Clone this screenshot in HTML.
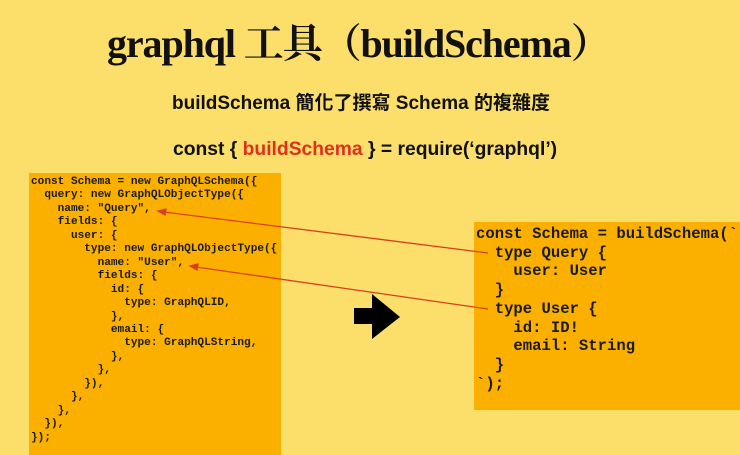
<!DOCTYPE html>
<html><head><meta charset="utf-8"><style>
body{margin:0;width:740px;height:455px;background:#FCDF6B;position:relative;overflow:hidden}
.t{position:absolute;white-space:nowrap;color:#111}
pre{margin:0;position:absolute;font-family:"Liberation Mono",monospace;font-weight:bold;color:#1a1a1a}
</style></head><body>
<div class="t" style="left:107px;top:12px;font:bold 40px 'Liberation Serif','Noto Serif CJK SC',serif;letter-spacing:-1.1px">graphql 工具（buildSchema）</div>
<div class="t" style="left:172px;top:88px;font:bold 19px 'Liberation Sans','Noto Sans CJK TC',sans-serif">buildSchema 簡化了撰寫 Schema 的複雜度</div>
<div class="t" style="left:173px;top:139px;font:bold 19.3px 'Liberation Sans',sans-serif">const { <span style="color:#E0301E">buildSchema</span> } = require(‘graphql’)</div>
<div style="position:absolute;left:29px;top:173px;width:252px;height:282px;background:#FBB000"></div>
<div style="position:absolute;left:474px;top:222px;width:266px;height:188px;background:#FBB000"></div>
<pre style="left:31px;top:176px;font-size:11.1px;line-height:13.45px">const Schema = new GraphQLSchema({
  query: new GraphQLObjectType({
    name: "Query",
    fields: {
      user: {
        type: new GraphQLObjectType({
          name: "User",
          fields: {
            id: {
              type: GraphQLID,
            },
            email: {
              type: GraphQLString,
            },
          },
        }),
      },
    },
  }),
});</pre>
<pre style="left:476px;top:225px;font-size:15.6px;line-height:18.7px">const Schema = buildSchema(`
  type Query {
    user: User
  }
  type User {
    id: ID!
    email: String
  }
`);</pre>
<svg width="740" height="455" style="position:absolute;left:0;top:0">
<g stroke="#D9401A" stroke-width="1.3" fill="#D9401A">
<line x1="488" y1="253" x2="164" y2="212"/><polygon points="158,211 166,209 165,215"/>
<line x1="488" y1="309" x2="196" y2="267"/><polygon points="190,266 198,264 197,270"/>
</g>
<polygon points="354,308 372,308 372,294 400,317 372,339 372,324 354,324" fill="#000"/>
</svg>
</body></html>
